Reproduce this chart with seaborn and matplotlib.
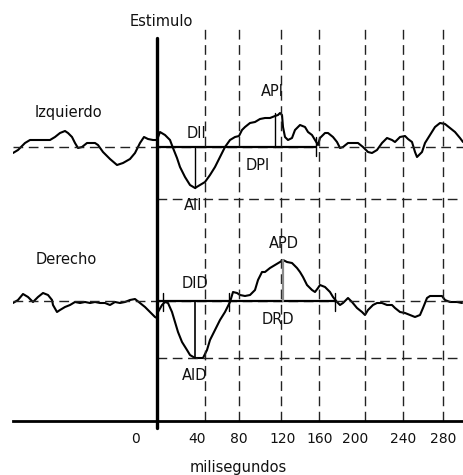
import numpy as np
import pandas as pd
import matplotlib
matplotlib.use("Agg")
import matplotlib.pyplot as plt
import seaborn as sns

# ---------------- data ----------------
# time in ms relative to the stimulus, amplitude in arbitrary units (up = positive)
t_izq = [-144, -139, -132, -127, -107, -102, -97, -92, -89, -85, -82, -79, -75, -70, -62, -59,
         -54, -47, -40, -34, -27, -22, -17, -13, -9, -4, 0,
         3, 8, 13, 16, 20, 23, 28, 33, 38, 43, 48, 53, 58, 63, 68, 73, 78, 82, 85, 88, 93,
         98, 103, 108, 113, 118, 121, 123, 125, 126, 128, 131, 135, 138, 143, 148, 151, 155,
         158, 161, 163, 168, 171, 176, 180, 183, 186, 191, 196, 201, 206, 211, 215, 220, 225,
         230, 235, 238, 243, 248, 251, 255, 258, 260, 265, 268, 273, 278, 283, 288, 293, 298,
         303, 306]
a_izq = [-6.5, -3.5, 3.5, 6.5, 6.5, 9.5, 13.5, 15.5, 13.5, 9.5, 3.5, -1.5, -0.5, 3.5, 3.5, 1.5,
         -5.5, -12.5, -18.5, -16.5, -12.5, -6.5, 3.5, 9.5, 7.5, 6.5, 6.5,
         14.5, 11.5, 6.5, -1.5, -11.5, -20.5, -30.5, -38.5, -41.5, -38.5, -35.5, -28.5, -20.5,
         -10.5, -0.5, 6.5, 9.5, 10.5, 16.5, 19.5, 23.5, 24.5, 27.5, 28.5, 28.5, 30.5, 31.5,
         33.5, 31.5, 19.5, 9.5, 6.5, 8.5, 16.5, 21.5, 19.5, 14.5, 11.5, 6.5, 1.5, 8.5, 13.5,
         13.5, 9.5, 4.5, -1.5, -0.5, 3.5, 3.5, 3.5, -0.5, -5.5, -6.5, -3.5, 3.5, 8.5, 6.5,
         4.5, 9.5, 10.5, 7.5, 4.5, -5.5, -10.5, -5.5, 3.5, 11.5, 19.5, 23.5, 22.5, 18.5,
         14.5, 8.5, 4.5]

t_der = [-144, -139, -134, -129, -124, -119, -114, -109, -105, -104, -100, -97, -92, -87, -82,
         -77, -72, -67, -62, -57, -52, -47, -42, -37, -32, -27, -22, -17, -12, -7, -2, 0,
         1, 5, 8, 11, 15, 18, 21, 25, 30, 33, 38, 43, 46, 50, 53, 58, 63, 68, 73, 76, 80, 83,
         88, 93, 98, 101, 105, 108, 113, 118, 123, 126, 130, 135, 140, 143, 146, 150, 155,
         158, 161, 163, 168, 173, 176, 180, 183, 186, 191, 195, 200, 205, 208, 211, 216, 220,
         225, 230, 235, 238, 243, 248, 253, 258, 263, 266, 270, 273, 280, 285, 288, 293, 300,
         305]
a_der = [-2.5, 0.5, 6.5, 3.5, -1.5, 3.5, 7.5, 5.5, 0.5, -4.5, -11.5, -9.5, -6.5, -4.5, -1.5,
         -2.5, -1.5, -2.5, -1.5, -2.5, -2.5, -4.5, -1.5, -2.5, -1.5, 0.5, 1.5, -2.5, -6.5,
         -11.5, -16.5, -17.5,
         -11.5, -4.5, -1.5, -2.5, -11.5, -21.5, -31.5, -41.5, -49.5, -54.5, -57.5, -57.5,
         -57.5, -49.5, -39.5, -29.5, -19.5, -11.5, -1.5, 8.5, 7.5, 5.5, 4.5, 5.5, 10.5, 20.5,
         28.5, 28.5, 32.5, 35.5, 38.5, 40.5, 38.5, 37.5, 32.5, 28.5, 23.5, 15.5, 10.5, 8.5,
         12.5, 15.5, 13.5, 8.5, 3.5, -1.5, -4.5, -2.5, 2.5, -1.5, -7.5, -11.5, -14.5, -9.5,
         -4.5, -2.5, -2.5, -4.5, -4.5, -7.5, -11.5, -12.5, -14.5, -16.5, -14.5, -7.5, 2.5,
         4.5, 4.5, 4.5, 0.5, -1.5, -1.5, -2.5]

grid_ms = [48, 82, 124, 162, 208, 246, 286]          # dashed reference lines
tick_labels = ["0", "40", "80", "120", "160", "200", "240", "280"]
tick_pos = [-22, 40, 82, 126, 163, 198, 246, 286]

izq_window_end = 159      # end of solid reference line (DPI)
der_window_end = 178      # end of solid reference line (DRD)
izq_low_level = -52.5     # lower dashed level, top trace
der_low_level = -57.5     # lower dashed level, bottom trace
izq_marks = [159]
der_marks = [6, 72, 178]

# ---------------- layout ----------------
W, H = 463, 475
OFF_IZQ, OFF_DER = -146.5, -300.5
X0, X1 = -144, 306

sns.set_theme(style="white")
plt.rcParams["font.family"] = ["DejaVu Sans"]

fig = plt.figure(figsize=(W / 100, H / 100), dpi=100)
ax = fig.add_axes([13 / W, 54 / H, (W - 13) / W, 421 / H])
ax.set_xlim(X0, X1)
ax.set_ylim(-421, 0)

df = pd.concat([
    pd.DataFrame({"t": t_izq, "y": np.array(a_izq) + OFF_IZQ, "canal": "Izquierdo"}),
    pd.DataFrame({"t": t_der, "y": np.array(a_der) + OFF_DER, "canal": "Derecho"}),
])
for canal in ["Izquierdo", "Derecho"]:
    sns.lineplot(data=df[df.canal == canal], x="t", y="y", color="black", lw=1.5,
                 estimator=None, sort=False, ax=ax, legend=False)

dash = dict(color="#222222", lw=1.0, dashes=(7, 4))
# baselines
for off in (OFF_IZQ, OFF_DER):
    ax.plot([X0, X1], [off, off], **dash)
ax.plot([0, X1], [OFF_IZQ + izq_low_level] * 2, **dash)
ax.plot([0, X1], [OFF_DER + der_low_level] * 2, **dash)
# solid reference segments
ax.plot([0, izq_window_end], [OFF_IZQ, OFF_IZQ], color="black", lw=1.6)
ax.plot([0, der_window_end], [OFF_DER, OFF_DER], color="black", lw=1.6)
# vertical dashed grid
for g in grid_ms:
    ax.plot([g, g], [-421, -29], color="#222222", lw=1.0, dashes=(7, 4))
# stimulus line
ax.plot([0, 0], [-428, -38], color="black", lw=2.4, clip_on=False)

# amplitude markers from data
ti, ai = np.array(t_izq), np.array(a_izq)
td, ad = np.array(t_der), np.array(a_der)
m = (ti > 0) & (ti < 100)
k = np.argmin(np.where(m, ai, np.inf))
ax.plot([ti[k], ti[k]], [OFF_IZQ, OFF_IZQ + ai[k]], color="black", lw=1.0)
m = (ti > 100) & (ti < 160)
k = np.argmax(np.where(m, ai, -np.inf))
ax.plot([ti[k] - 5, ti[k] - 5], [OFF_IZQ, OFF_IZQ + ai[k]], color="black", lw=1.0)
m = (td > 0) & (td < 100)
k = np.argmin(np.where(m, ad, np.inf))
ax.plot([td[k], td[k]], [OFF_DER, OFF_DER + ad[k]], color="black", lw=1.2)
m = (td > 100) & (td < 170)
k = np.argmax(np.where(m, ad, -np.inf))
ax.plot([td[k], td[k]], [OFF_DER, OFF_DER + ad[k]], color="#8a8a8a", lw=1.6)

for x in izq_marks:
    ax.plot([x, x], [OFF_IZQ + 10, OFF_IZQ - 9], color="black", lw=1.0)
for x in der_marks:
    ax.plot([x, x], [OFF_DER + 8, OFF_DER - 10], color="black", lw=1.0)

# x axis
for s in ["top", "right", "left"]:
    ax.spines[s].set_visible(False)
ax.spines["bottom"].set_color("black")
ax.spines["bottom"].set_linewidth(2.0)
ax.set_yticks([])
ax.set_xticks(tick_pos)
ax.set_xticklabels(tick_labels)
ax.tick_params(axis="x", length=0, pad=8, labelsize=10, colors="#111111")
ax.set_xlabel("milisegundos", fontsize=10.5, labelpad=10, color="#111111")
ax.set_ylabel("")

txt = dict(fontsize=10.5, color="#111111", ha="center", va="center")
ax.text(4, -21, "Estimulo", **txt)
ax.text(-89, -112, "Izquierdo", **txt)
ax.text(-91, -259, "Derecho", **txt)
ax.text(39, -133, "DII", **txt)
ax.text(101, -166, "DPI", **txt)
ax.text(36, -206, "AII", **txt)
ax.text(115, -91, "API", **txt)
ax.text(127, -243, "APD", **txt)
ax.text(38, -284, "DID", **txt)
ax.text(121, -319, "DRD", **txt)
ax.text(38, -376, "AID", **txt)

fig.savefig("out.png", dpi=100)
